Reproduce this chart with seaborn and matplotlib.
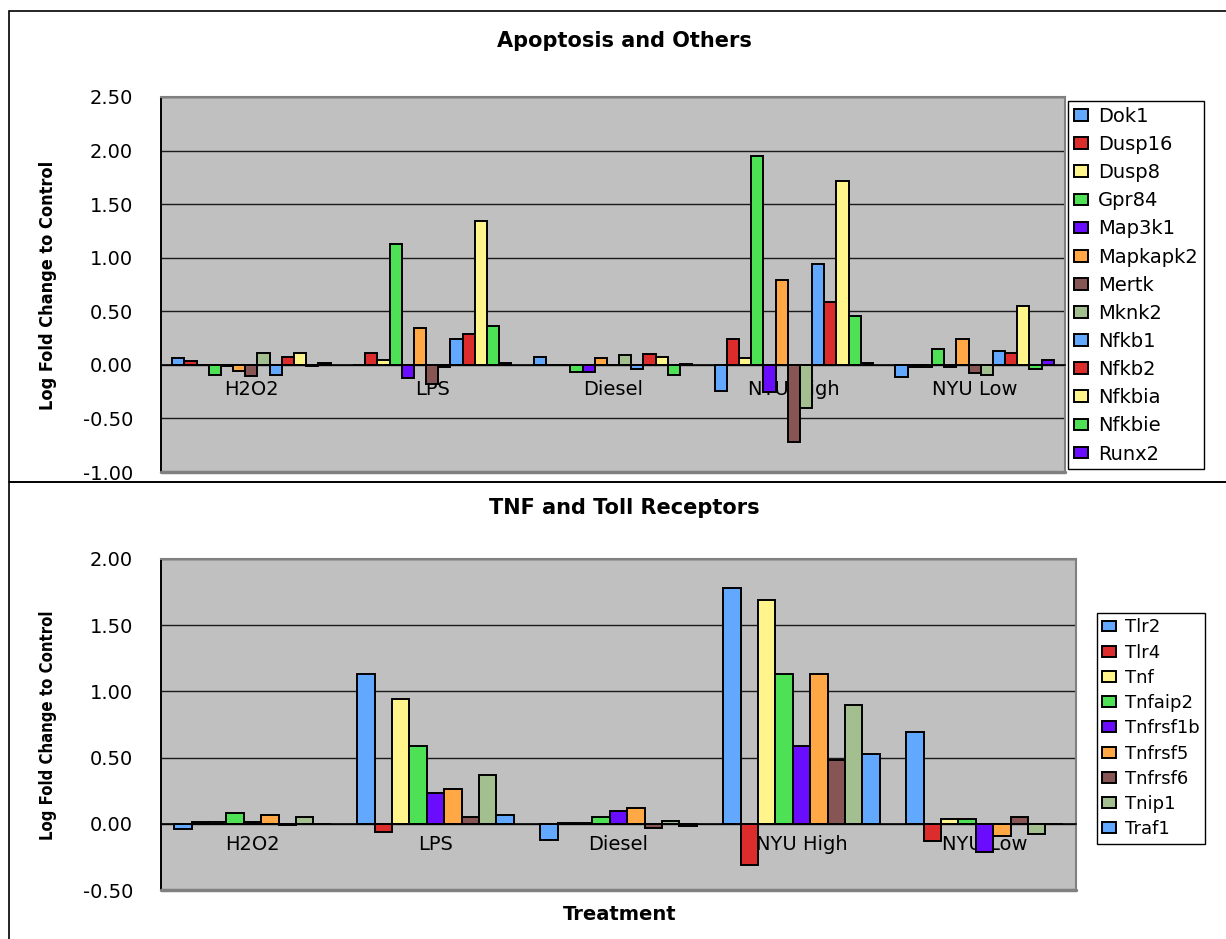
import pandas as pd
import seaborn as sns
import matplotlib.pyplot as plt
from matplotlib.patches import Rectangle

treatments = ['H2O2', 'LPS', 'Diesel', 'NYU High', 'NYU Low']

apopGenes = ['Dok1', 'Dusp16', 'Dusp8', 'Gpr84', 'Map3k1', 'Mapkapk2', 'Mertk',
             'Mknk2', 'Nfkb1', 'Nfkb2', 'Nfkbia', 'Nfkbie', 'Runx2']
apopH2O2 = [0.06, 0.04, 0.00, -0.09, -0.01, -0.06, -0.10, 0.11, -0.09, 0.07, 0.11, -0.01, 0.02]
apopLPS = [0.00, 0.11, 0.05, 1.13, -0.12, 0.34, -0.18, -0.02, 0.24, 0.29, 1.34, 0.36, 0.02]
apopDiesel = [0.07, 0.00, 0.00, -0.07, -0.07, 0.06, 0.00, 0.09, -0.04, 0.10, 0.07, -0.09, 0.01]
apopNYUHigh = [-0.24, 0.24, 0.06, 1.95, -0.25, 0.79, -0.72, -0.40, 0.94, 0.59, 1.72, 0.46, 0.02]
apopNYULow = [-0.11, -0.02, -0.02, 0.15, -0.02, 0.24, -0.08, -0.09, 0.13, 0.11, 0.55, -0.04, 0.05]

tnfGenes = ['Tlr2', 'Tlr4', 'Tnf', 'Tnfaip2', 'Tnfrsf1b', 'Tnfrsf5', 'Tnfrsf6', 'Tnip1', 'Traf1']
tnfH2O2 = [-0.04, 0.01, 0.01, 0.08, 0.01, 0.07, -0.01, 0.05, 0.00]
tnfLPS = [1.13, -0.06, 0.94, 0.59, 0.23, 0.26, 0.05, 0.37, 0.07]
tnfDiesel = [-0.12, 0.005, 0.005, 0.05, 0.10, 0.12, -0.03, 0.02, -0.02]
tnfNYUHigh = [1.78, -0.31, 1.69, 1.13, 0.59, 1.13, 0.48, 0.90, 0.53]
tnfNYULow = [0.69, -0.13, 0.04, 0.04, -0.21, -0.09, 0.05, -0.08, 0.00]

azul, vermelho, amarelo, verde = '#63A8FF', '#DD2C2C', '#FFF58A', '#4EE055'
roxo, laranja, marrom, salvia = '#6A0DFF', '#FFA845', '#885555', '#A3BE8F'
apopCores = [azul, vermelho, amarelo, verde, roxo, laranja, marrom, salvia,
             azul, vermelho, amarelo, verde, roxo]
tnfCores = [azul, vermelho, amarelo, verde, roxo, laranja, marrom, salvia, azul]


def montaTabela(genes, listas):
    linhas = []
    for trat, valores in zip(treatments, listas):
        for gene, v in zip(genes, valores):
            linhas.append({'Treatment': trat, 'Gene': gene, 'Value': v})
    return pd.DataFrame(linhas)


dfApop = montaTabela(apopGenes, [apopH2O2, apopLPS, apopDiesel, apopNYUHigh, apopNYULow])
dfTnf = montaTabela(tnfGenes, [tnfH2O2, tnfLPS, tnfDiesel, tnfNYUHigh, tnfNYULow])

sns.set_style('white')
plt.rcParams['font.family'] = ['DejaVu Sans']
for chave in ['text.color', 'axes.labelcolor', 'xtick.color', 'ytick.color']:
    plt.rcParams[chave] = 'black'

W, H = 1226, 939
fig = plt.figure(figsize=(W / 100, H / 100), dpi=100)

# molduras dos dois paineis
fig.add_artist(Rectangle((9 / W, 1 - 482 / H), 1.0, (482 - 11) / H, transform=fig.transFigure,
                         fill=False, edgecolor='black', linewidth=1.2))
fig.add_artist(Rectangle((9 / W, -0.02), 1.0, 1 - 482 / H + 0.02, transform=fig.transFigure,
                         fill=False, edgecolor='black', linewidth=1.2))

axTop = fig.add_axes([161 / W, 1 - 472 / H, 904 / W, 375 / H])
axBot = fig.add_axes([161 / W, 1 - 890 / H, 915 / W, 331 / H])


def desenha(ax, df, genes, cores, largura, ylim, passo, labelpad):
    sns.barplot(data=df, x='Treatment', y='Value', hue='Gene', order=treatments,
                hue_order=genes, palette=cores, width=largura, errorbar=None,
                saturation=1, edgecolor='black', linewidth=1.4, ax=ax)
    ax.set_facecolor('#C0C0C0')
    ax.set_ylim(*ylim)
    ax.set_xlim(-0.5, 4.5)
    ticks = [ylim[0] + passo * i for i in range(int(round((ylim[1] - ylim[0]) / passo)) + 1)]
    ax.set_yticks(ticks)
    ax.set_yticklabels(['%.2f' % t for t in ticks], fontsize=14)
    ax.yaxis.grid(True, color='#1a1a1a', linewidth=1)
    ax.set_axisbelow(True)
    ax.spines['bottom'].set_position(('data', 0))
    ax.spines['bottom'].set_color('black')
    ax.spines['bottom'].set_linewidth(1.2)
    ax.spines['left'].set_color('black')
    ax.spines['left'].set_linewidth(1.4)
    for s in ['top', 'right']:
        ax.spines[s].set_color('#808080')
        ax.spines[s].set_linewidth(1.5)
    ax.axhline(ylim[0], color='#808080', linewidth=2.5, clip_on=False, zorder=5)
    ax.tick_params(axis='y', direction='out', length=8, width=1, pad=12)
    ax.tick_params(axis='x', which='major', length=0, pad=labelpad, labelsize=14)
    ax.set_xticks([0.5, 1.5, 2.5, 3.5, 4.5], minor=True)
    ax.tick_params(axis='x', which='minor', length=5, width=1, direction='out')
    ax.set_xlabel('')
    ax.set_ylabel('')


desenha(axTop, dfApop, apopGenes, apopCores, 0.876, (-1.0, 2.5), 0.5, 11)
desenha(axBot, dfTnf, tnfGenes, tnfCores, 0.856, (-0.5, 2.0), 0.5, 8)

axTop.legend(loc='upper left', bbox_to_anchor=(1068 / W, 1 - 101 / H), bbox_transform=fig.transFigure,
             borderaxespad=0, fontsize=14, frameon=True, fancybox=False, edgecolor='black',
             framealpha=1, handlelength=0.75, handleheight=0.55, handletextpad=0.5,
             labelspacing=0.47, borderpad=0.3)
axBot.legend(loc='upper left', bbox_to_anchor=(1097 / W, 1 - 613 / H), bbox_transform=fig.transFigure,
             borderaxespad=0, fontsize=13, frameon=True, fancybox=False, edgecolor='black',
             framealpha=1, handlelength=0.75, handleheight=0.55, handletextpad=0.5,
             labelspacing=0.4, borderpad=0.3)

fig.text(624 / W, 1 - 41 / H, 'Apoptosis and Others', ha='center', va='center',
         fontsize=15, fontweight='bold')
fig.text(624 / W, 1 - 508 / H, 'TNF and Toll Receptors', ha='center', va='center',
         fontsize=15, fontweight='bold')
fig.text(620 / W, 1 - 914 / H, 'Treatment', ha='center', va='center',
         fontsize=14, fontweight='bold')
fig.text(48 / W, 1 - 285 / H, 'Log Fold Change to Control', ha='center', va='center',
         rotation=90, fontsize=13, fontweight='bold', fontstretch='condensed')
fig.text(48 / W, 1 - 725 / H, 'Log Fold Change to Control', ha='center', va='center',
         rotation=90, fontsize=12, fontweight='bold', fontstretch='condensed')

plt.savefig('out.png', dpi=100)
plt.close()
